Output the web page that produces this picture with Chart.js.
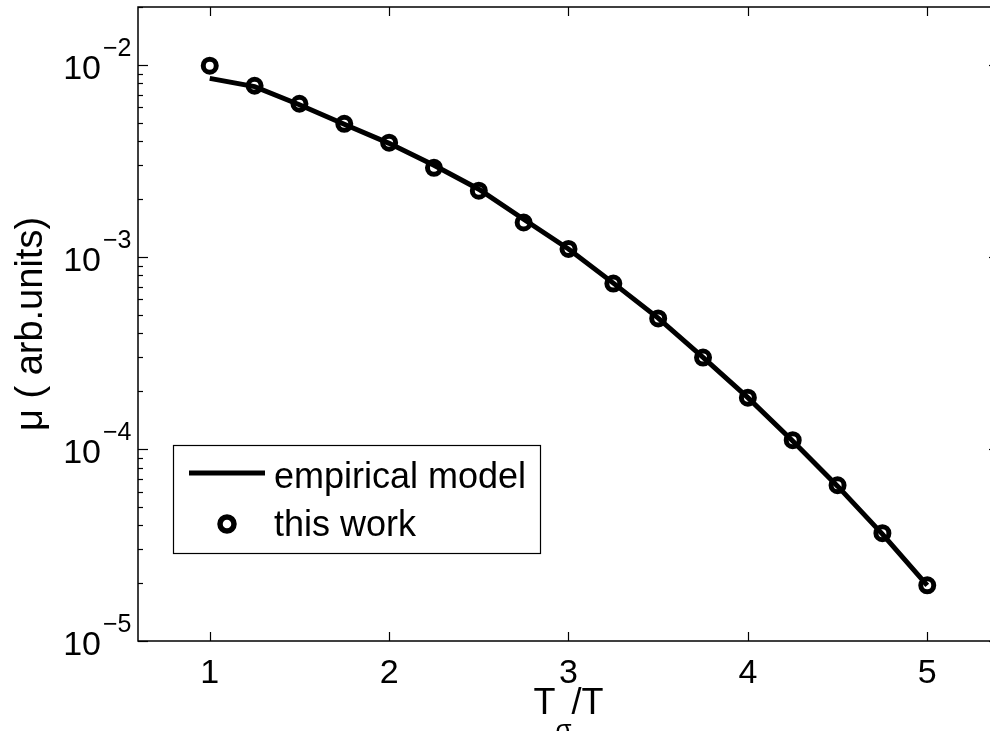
<!DOCTYPE html>
<html>
<head>
<meta charset="utf-8">
<script src="https://cdn.jsdelivr.net/npm/chart.js@4.4.1/dist/chart.umd.min.js"></script>
<style>
  html, body { margin: 0; padding: 0; background: #fff; overflow: hidden; }
  #wrap { width: 1010px; height: 731px; }
</style>
</head>
<body>
<div id="wrap"><canvas id="chart" width="1010" height="731"></canvas></div>
<script>
// T_sigma / T values
const ratios = [1, 1.25, 1.5, 1.75, 2, 2.25, 2.5, 2.75, 3, 3.25, 3.5, 3.75, 4, 4.25, 4.5, 4.75, 5];

// empirical model (solid line)
const modelValues = [8.5e-3, 7.7e-3, 6.2e-3, 4.9e-3, 3.9e-3, 3.0e-3, 2.25e-3, 1.57e-3, 1.1e-3,
  7.3e-4, 4.8e-4, 3.0e-4, 1.85e-4, 1.1e-4, 6.4e-5, 3.6e-5, 1.95e-5];

// this work (circles)
const workValues = [9.9e-3, 7.78e-3, 6.27e-3, 4.93e-3, 3.93e-3, 2.91e-3, 2.21e-3, 1.51e-3, 1.1e-3,
  7.26e-4, 4.78e-4, 2.99e-4, 1.85e-4, 1.11e-4, 6.47e-5, 3.64e-5, 1.95e-5];

const xTicks = [1, 2, 3, 4, 5];
const yExponents = [-5, -4, -3, -2];
const legendLabels = ["empirical model", "this work"];

const FONT = '"Liberation Sans", Arial, Helvetica, sans-serif';

// ===== MATLAB style axes, ticks, labels and legend =====
const matlabAxes = {
  id: "matlabAxes",
  afterDraw(chart) {
    const { ctx, chartArea: a } = chart;
    const xs = chart.scales.x, ys = chart.scales.y;
    const seg = (x1, y1, x2, y2) => {
      ctx.beginPath(); ctx.moveTo(x1, y1); ctx.lineTo(x2, y2); ctx.stroke();
    };
    ctx.save();
    ctx.strokeStyle = "#000";
    ctx.fillStyle = "#000";

    // box
    ctx.lineWidth = 1.5;
    ctx.strokeRect(a.left, a.top, a.right - a.left, a.bottom - a.top);

    // x ticks (inward, top and bottom)
    ctx.lineWidth = 1.2;
    xTicks.forEach((v) => {
      const px = Math.round(xs.getPixelForValue(v)) + 0.5;
      seg(px, a.bottom, px, a.bottom - 9);
      seg(px, a.top, px, a.top + 9);
    });

    // y ticks, decades + minor
    for (let e = yExponents[0]; e <= yExponents[yExponents.length - 1] + 1; e++) {
      for (let m = 1; m <= 9; m++) {
        const v = m * Math.pow(10, e);
        if (v < ys.min || v > ys.max) continue;
        const py = Math.round(ys.getPixelForValue(v)) + 0.5;
        const len = m === 1 ? 10 : 5;
        seg(a.left, py, a.left + len, py);
        seg(a.right, py, a.right - len, py);
      }
    }

    // x tick labels
    ctx.font = "34px " + FONT;
    ctx.textAlign = "center";
    ctx.textBaseline = "alphabetic";
    xTicks.forEach((v) => {
      ctx.fillText(String(v), xs.getPixelForValue(v), a.bottom + 42);
    });

    // y tick labels 10^e
    yExponents.forEach((e) => {
      const py = ys.getPixelForValue(Math.pow(10, e));
      ctx.font = "34px " + FONT;
      ctx.textAlign = "right";
      ctx.fillText("10", a.left - 37, py + 14);
      ctx.font = "25px " + FONT;
      ctx.textAlign = "left";
      ctx.fillText("\u2212" + Math.abs(e), a.left - 35, py - 9);
    });

    // x title: T_sigma / T
    const big = "36px " + FONT, small = "26px " + FONT;
    ctx.font = big;
    const wT = ctx.measureText("T").width;
    const wSlash = ctx.measureText("/T").width;
    ctx.font = small;
    const wSig = ctx.measureText("\u03c3").width;
    const total = wT + wSig + wSlash;
    let tx = (a.left + a.right) / 2 - total / 2;
    const tb = a.bottom + 73;
    ctx.textAlign = "left";
    ctx.font = big;
    ctx.fillText("T", tx, tb);
    tx += wT;
    ctx.font = small;
    ctx.fillText("\u03c3", tx, tb + 24);
    tx += wSig;
    ctx.font = big;
    ctx.fillText("/T", tx, tb);

    // y title
    ctx.save();
    ctx.translate(42, (a.top + a.bottom) / 2);
    ctx.rotate(-Math.PI / 2);
    ctx.textAlign = "center";
    ctx.font = "38px " + FONT;
    ctx.fillText("\u03bc ( arb.units)", 0, 0);
    ctx.restore();

    // legend
    const lx = a.left + 35, ly = a.top + 438, lw = 367, lh = 108;
    ctx.fillStyle = "#fff";
    ctx.fillRect(lx, ly, lw, lh);
    ctx.fillStyle = "#000";
    ctx.lineWidth = 1.2;
    ctx.strokeRect(lx + 0.5, ly + 0.5, lw, lh);
    ctx.lineWidth = 5;
    seg(lx + 16, ly + 28, lx + 92, ly + 28);
    ctx.lineWidth = 5.5;
    ctx.beginPath();
    ctx.arc(lx + 54, ly + 79, 7, 0, Math.PI * 2);
    ctx.stroke();
    ctx.font = "36px " + FONT;
    ctx.textAlign = "left";
    ctx.fillText(legendLabels[0], lx + 101, ly + 43);
    ctx.fillText(legendLabels[1], lx + 101, ly + 91);

    ctx.restore();
  },
};

new Chart(document.getElementById("chart"), {
  type: "line",
  data: {
    datasets: [
      {
        label: legendLabels[0],
        data: ratios.map((x, i) => ({ x, y: modelValues[i] })),
        borderColor: "#000",
        borderWidth: 5,
        pointRadius: 0,
        tension: 0,
      },
      {
        label: legendLabels[1],
        data: ratios.map((x, i) => ({ x, y: workValues[i] })),
        showLine: false,
        pointStyle: "circle",
        pointRadius: 6.5,
        pointBorderWidth: 5,
        pointBorderColor: "#000",
        pointBackgroundColor: "#fff",
      },
    ],
  },
  options: {
    responsive: false,
    animation: false,
    layout: { autoPadding: false, padding: { left: 138, right: 11, top: 7, bottom: 90 } },
    scales: {
      x: { type: "linear", min: 0.6, max: 5.4, display: false },
      y: { type: "logarithmic", min: 1e-5, max: 2e-2, display: false },
    },
    plugins: { legend: { display: false }, tooltip: { enabled: false } },
  },
  plugins: [matlabAxes],
});
</script>
</body>
</html>
